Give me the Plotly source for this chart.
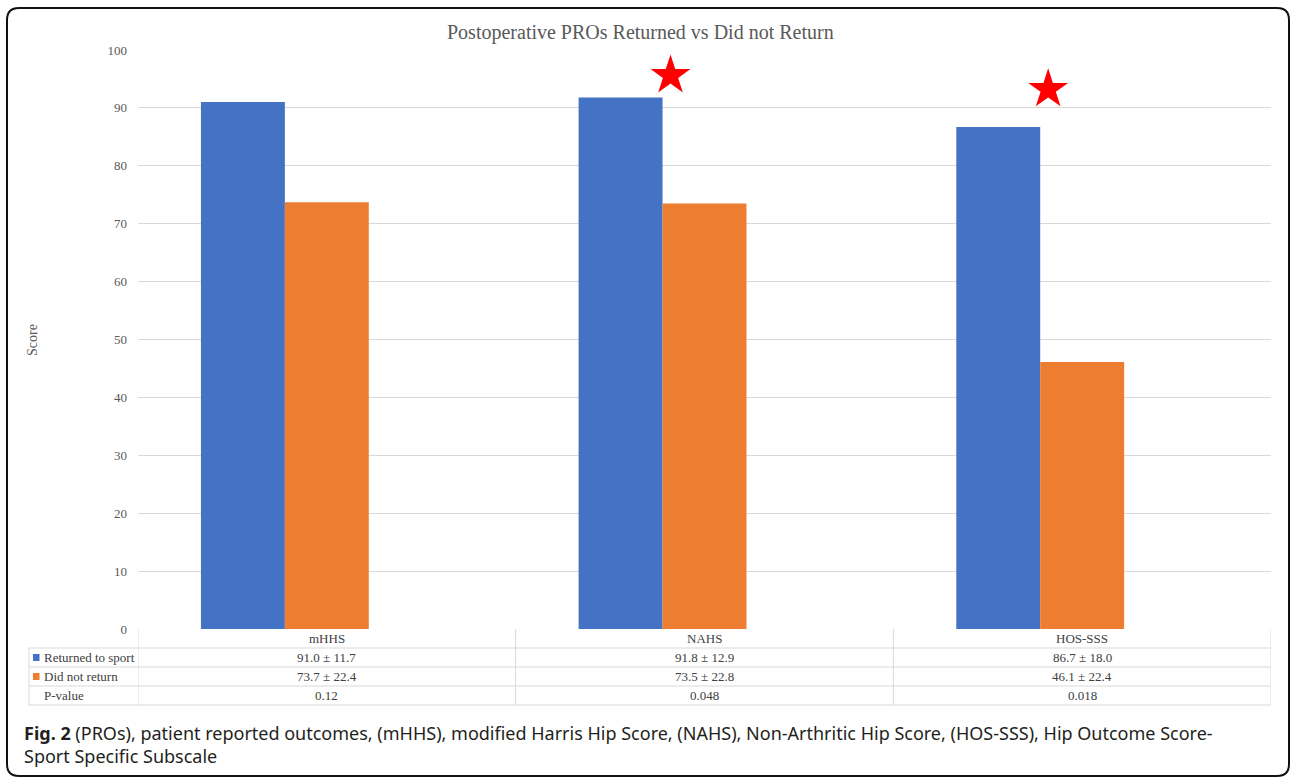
import plotly.graph_objects as go

# ---------------- data ----------------
categories = ["mHHS", "NAHS", "HOS-SSS"]
returned = [91.0, 91.8, 86.7]
did_not_return = [73.7, 73.5, 46.1]
p_values = [0.12, 0.048, 0.018]
returned_txt = ["91.0 ± 11.7", "91.8 ± 12.9", "86.7 ± 18.0"]
did_not_txt = ["73.7 ± 22.4", "73.5 ± 22.8", "46.1 ± 22.4"]
p_txt = ["0.12", "0.048", "0.018"]
series_names = ["Returned to sport", "Did not return", "P-value"]
star_idx = [1, 2]
star_y = [95.6, 93.2]

title = "Postoperative PROs Returned vs Did not Return"
caption = ("<b>Fig. 2</b> (PROs), patient reported outcomes, (mHHS), modified Harris Hip Score, "
           "(NAHS), Non-Arthritic Hip Score, (HOS-SSS), Hip Outcome Score-<br>Sport Specific Subscale")

BLUE = "#4472C4"
ORANGE = "#ED7D31"
GRID = "#d9d9d9"
SERIF = "Liberation Serif"

W, H = 1292, 780
L, R, T, B = 138, 21, 50, 151
PW, PH = W - L - R, H - T - B


def px(x):
    return (x - L) / PW


def py(y):
    return (H - B - y) / PH


fig = go.Figure()
fig.add_trace(go.Bar(x=categories, y=returned, name=series_names[0], marker_color=BLUE,
                     marker_line_width=0))
fig.add_trace(go.Bar(x=categories, y=did_not_return, name=series_names[1], marker_color=ORANGE,
                     marker_line_width=0))
fig.add_trace(go.Bar(x=categories, y=p_values, name=series_names[2],
                     marker_color="rgba(0,0,0,0)", marker_line_width=0))

# stars (on overlay numeric axis)
fig.add_trace(go.Scatter(x=[i - 0.09 for i in star_idx], y=star_y, xaxis="x2", mode="markers",
                         marker=dict(symbol="star", size=30, color="#FF0000", line_width=0),
                         showlegend=False))

annotations = []
shapes = []

# title
annotations.append(dict(text=title, x=px(640), y=py(33), xref="paper", yref="paper",
                        showarrow=False, xanchor="center", yanchor="middle",
                        font=dict(family=SERIF, size=20, color="#595959")))
# y-axis title
annotations.append(dict(text="Score", x=px(33), y=py(340), xref="paper", yref="paper",
                        showarrow=False, textangle=-90, xanchor="center", yanchor="middle",
                        font=dict(family=SERIF, size=14, color="#595959")))

# table
row_edges = [629, 648, 667, 686, 705]
row_centers = [(row_edges[i] + row_edges[i + 1]) / 2 for i in range(4)]
rows = [categories, returned_txt, did_not_txt, p_txt]
for r, vals in enumerate(rows):
    for c, v in enumerate(vals):
        annotations.append(dict(text=v, x=categories[c], xref="x", y=py(row_centers[r]),
                                yref="paper", showarrow=False, xanchor="center",
                                yanchor="middle",
                                font=dict(family=SERIF, size=13, color="#404040")))
for r, name in enumerate(series_names):
    annotations.append(dict(text=name, x=px(42), y=py(row_centers[r + 1]), xref="paper",
                            yref="paper", showarrow=False, xanchor="left", yanchor="middle",
                            font=dict(family=SERIF, size=13, color="#404040")))
for r, col in enumerate([BLUE, ORANGE]):
    cy = row_centers[r + 1]
    shapes.append(dict(type="rect", xref="paper", yref="paper", x0=px(33), x1=px(39.5),
                       y0=py(cy + 3.5), y1=py(cy - 3.5), fillcolor=col, line_width=0))

line = dict(color=GRID, width=1)
for e in row_edges[1:]:
    shapes.append(dict(type="line", xref="paper", yref="paper", x0=px(29), x1=1,
                       y0=py(e), y1=py(e), line=line))
shapes.append(dict(type="line", xref="paper", yref="paper", x0=px(29), x1=px(29),
                   y0=py(648), y1=py(705), line=line))
for xb in [-0.5, 0.5, 1.5, 2.5]:
    shapes.append(dict(type="line", xref="x", yref="paper", x0=xb, x1=xb,
                       y0=py(629), y1=py(705), line=line))

# caption
annotations.append(dict(text=caption, x=px(22), y=py(719), xref="paper", yref="paper",
                        showarrow=False, xanchor="left", yanchor="top", align="left",
                        font=dict(family="Noto Sans", size=18, color="#231f20")))

# outer rounded frame
x0, x1, y0, y1, rr = 7, 1289, 8, 776, 12
path = (f"M {px(x0 + rr)},{py(y0)} L {px(x1 - rr)},{py(y0)} Q {px(x1)},{py(y0)} {px(x1)},{py(y0 + rr)} "
        f"L {px(x1)},{py(y1 - rr)} Q {px(x1)},{py(y1)} {px(x1 - rr)},{py(y1)} "
        f"L {px(x0 + rr)},{py(y1)} Q {px(x0)},{py(y1)} {px(x0)},{py(y1 - rr)} "
        f"L {px(x0)},{py(y0 + rr)} Q {px(x0)},{py(y0)} {px(x0 + rr)},{py(y0)} Z")
shapes.append(dict(type="path", xref="paper", yref="paper", path=path,
                   line=dict(color="#111111", width=2)))

fig.update_layout(
    width=W, height=H,
    margin=dict(l=L, r=R, t=T, b=B, pad=0),
    paper_bgcolor="white", plot_bgcolor="white",
    barmode="group", bargap=1 / 3, bargroupgap=0,
    showlegend=False,
    xaxis=dict(showticklabels=False, showgrid=False, zeroline=False, showline=False,
               ticks="", range=[-0.5, 2.5]),
    xaxis2=dict(overlaying="x", range=[-0.5, 2.5], visible=False),
    yaxis=dict(range=[0, 100], dtick=10, showgrid=True, gridcolor=GRID, gridwidth=1,
               zeroline=False, showline=False, ticks="", ticklabelstandoff=10,
               tickfont=dict(family=SERIF, size=13, color="#595959")),
    annotations=annotations,
    shapes=shapes,
)

fig.write_html("out.html")
